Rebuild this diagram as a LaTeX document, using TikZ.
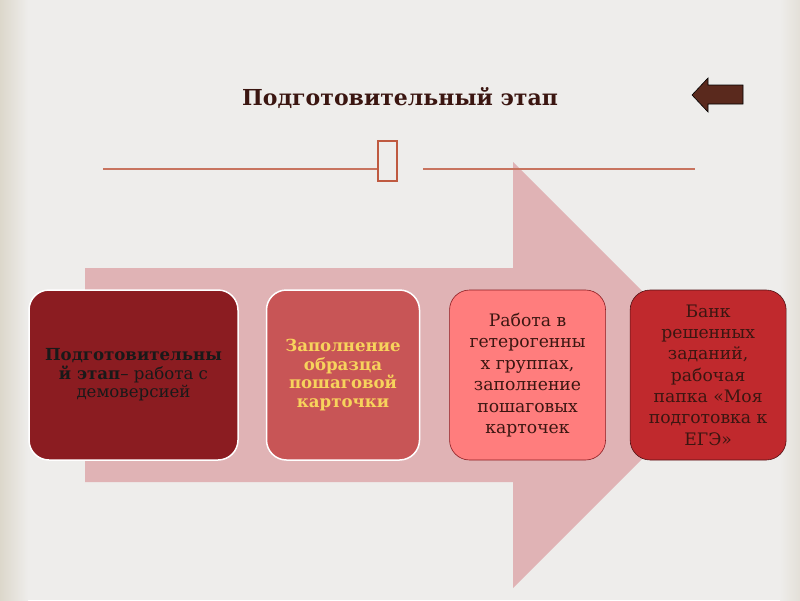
\documentclass[tikz,border=0pt]{standalone}
\usepackage{fontspec}
\setmainfont{DejaVu Serif}
\usetikzlibrary{positioning}
\definecolor{bgcol}{HTML}{EEEDEB}
\definecolor{edgecol}{HTML}{DCD7CB}
\definecolor{arrowpink}{HTML}{E0B3B5}
\definecolor{linecol}{HTML}{C8745F}
\definecolor{tofucol}{HTML}{BF5A40}
\definecolor{titlecol}{HTML}{3B1611}
\definecolor{navcol}{HTML}{5A291D}
\definecolor{stepa}{HTML}{8B1C21}
\definecolor{stepb}{HTML}{C85556}
\definecolor{stepc}{HTML}{FF7D7D}
\definecolor{stepd}{HTML}{C0292D}
\definecolor{yelcol}{HTML}{F7D35C}
\tikzset{
  stage/.style={draw,rectangle,rounded corners=20pt,minimum height=170pt,align=center,inner sep=3pt},
  stagea/.style={stage,fill=stepa,draw=white,line width=1.5pt,minimum width=209pt,text=black!90,font=\fontsize{16.6}{18.5}\selectfont},
  stageb/.style={stage,fill=stepb,draw=white,line width=1.5pt,minimum width=153pt,text=yelcol,font=\fontsize{16.6}{18.7}\selectfont\bfseries},
  stagec/.style={stage,fill=stepc,draw=stepa,line width=0.6pt,minimum width=156pt,text=titlecol,font=\fontsize{17.2}{21.5}\selectfont},
  staged/.style={stage,fill=stepd,draw=stepa!60!black,line width=0.6pt,minimum width=156pt,text=titlecol,font=\fontsize{17.2}{21.3}\selectfont},
  rule/.style={linecol,line width=1.3pt},
  lbl/.style={font=\fontsize{22}{26}\selectfont\bfseries,text=titlecol}
}

\begin{document}
\begin{tikzpicture}[x=1pt,y=-1pt]
  \useasboundingbox (0,0) rectangle (800,600);
  \fill[bgcol] (0,0) rectangle (800,600);
  \shade[left color=edgecol,right color=bgcol] (0,0) rectangle (28,600);
  \shade[left color=bgcol,right color=edgecol!60!bgcol] (780,0) rectangle (800,600);

  % big arrow behind the stages
  \fill[arrowpink] (85,268) -- (513,268) -- (513,162) -- (726,375) -- (513,588) -- (513,482) -- (85,482) -- cycle;

  \node[lbl] (title) at (400,98) {Подготовительный этап};
  \fill[navcol,draw=black,line width=0.6pt] (692,95) -- (708,78) -- (708,85) -- (743,85) -- (743,104) -- (708,104) -- (708,112) -- cycle;

  \coordinate (la) at (103,169);
  \coordinate (lb) at (377,169);
  \coordinate (ra) at (423,169);
  \coordinate (rb) at (695,169);
  \draw[rule] (la) -- (lb);
  \draw[rule] (ra) -- (rb);
  \draw[tofucol,line width=1.8pt] (378,141) rectangle (397,181);

  \node[stagea] (s1) at (133.5,375) {\textbf{Подготовительны}\\\textbf{й этап}– работа с\\демоверсией};
  \node[stageb,right=27pt of s1] (s2) {Заполнение\\образца\\пошаговой\\карточки};
  \node[stagec,right=29pt of s2] (s3) {Работа в\\гетерогенны\\х группах,\\заполнение\\пошаговых\\карточек};
  \node[staged,right=24pt of s3] (s4) {Банк\\решенных\\заданий,\\рабочая\\папка «Моя\\подготовка к\\ЕГЭ»};
\end{tikzpicture}
\end{document}
